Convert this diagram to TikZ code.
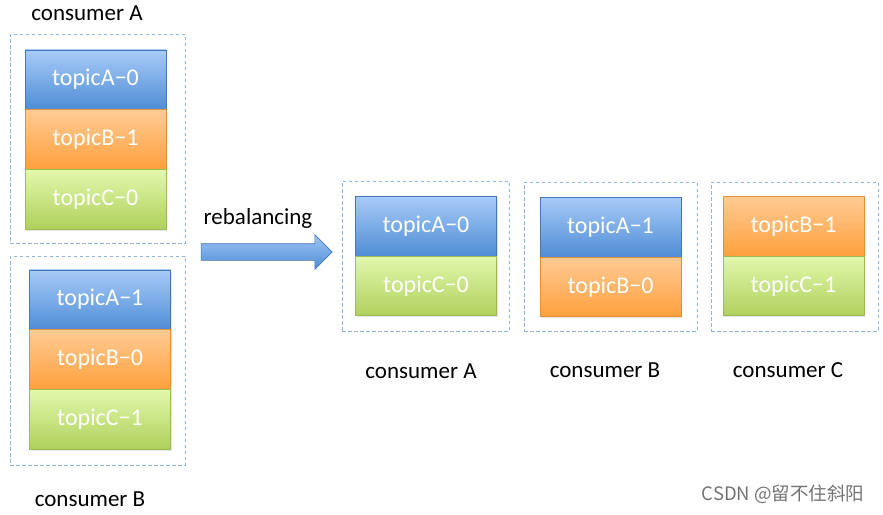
\documentclass[tikz,border=0pt]{standalone}
\usepackage{fontspec}
\setmainfont{Carlito}
\newfontfamily\cjkfont{Noto Sans CJK SC}
\usetikzlibrary{positioning, shapes.arrows, shadows}

\definecolor{blueTop}{HTML}{A8CBF8}
\definecolor{blueBot}{HTML}{4F8DD5}
\definecolor{orangeTop}{HTML}{FFCB95}
\definecolor{orangeBot}{HTML}{FFA03C}
\definecolor{greenTop}{HTML}{E2F8AC}
\definecolor{greenBot}{HTML}{AFD05C}
\definecolor{groupLine}{HTML}{8EB4DE}

\begin{document}
\begin{tikzpicture}[
        x=1pt, y=-1pt,
        every node/.style={font=\fontsize{23}{27}\selectfont},
        part/.style={minimum width=141pt, minimum height=59.5pt, inner sep=0pt, text=white, line width=0.4pt,
            font=\fontsize{24}{28}\selectfont,
            drop shadow={shadow xshift=1pt, shadow yshift=-1.5pt, opacity=0.2}},
        partA/.style={part, top color=blueTop, bottom color=blueBot, draw=blueBot!85!black},
        partB/.style={part, top color=orangeTop, bottom color=orangeBot, draw=orangeBot!90!black},
        partC/.style={part, top color=greenTop, bottom color=greenBot, draw=greenBot!90!black},
        group/.style={draw=groupLine, dash pattern=on 3.5pt off 2.5pt, line width=0.9pt, inner sep=0pt},
        caption/.style={text=black},
        node distance=0pt
    ]
        \useasboundingbox (0,0) rectangle (883,514);

        % Gruppen vorher
        \node (grpOldA) at (97.5,138.5) [group, minimum width=175pt, minimum height=209pt] {};
        \node (grpOldB) at (97.5,360.5) [group, minimum width=175pt, minimum height=209pt] {};
        \node (capOldA) at (87,13) [caption] {consumer A};
        \node (capOldB) at (90,499) [caption] {consumer B};

        \node (oldA0) at (95.5,79.5) [partA] {topicA−0};
        \node (oldB1) [partB, below=of oldA0] {topicB−1};
        \node (oldC0) [partC, below=of oldB1] {topicC−0};

        \node (oldA1) at (100,299.5) [partA] {topicA−1};
        \node (oldB0) [partB, below=of oldA1] {topicB−0};
        \node (oldC1) [partC, below=of oldB0] {topicC−1};

        % Pfeil
        \node (shift) at (262.5,252) [single arrow, draw=blueBot!85!black, line width=0.6pt,
            top color=blueTop!90!blueBot, bottom color=blueBot,
            minimum height=131pt, minimum width=34pt, inner xsep=0pt, inner ysep=8pt,
            single arrow head extend=9pt, single arrow head indent=0pt] {};
        \node (rebal) at (258,218) [caption] {rebalancing};

        % Gruppen nachher
        \node (grpNewA) at (425.5,256) [group, minimum width=167pt, minimum height=150pt] {};
        \node (grpNewB) at (610.5,256.5) [group, minimum width=173pt, minimum height=149pt] {};
        \node (grpNewC) at (794.5,256.5) [group, minimum width=167pt, minimum height=149pt] {};

        \node (newA0) at (426,226) [partA] {topicA−0};
        \node (newC0) [partC, below=of newA0] {topicC−0};
        \node (newA1) at (610.5,227) [partA] {topicA−1};
        \node (newB0) [partB, below=of newA1] {topicB−0};
        \node (newB1) at (793.5,226) [partB] {topicB−1};
        \node (newC1) [partC, below=of newB1] {topicC−1};

        \node (capNewA) at (421,371) [caption] {consumer A};
        \node (capNewB) at (605,370) [caption] {consumer B};
        \node (capNewC) at (788,370) [caption] {consumer C};

        \node (mark) at (783,494) [text=black!55, font=\cjkfont\fontsize{18.5}{22}\selectfont] {CSDN @留不住斜阳};
\end{tikzpicture}
\end{document}
